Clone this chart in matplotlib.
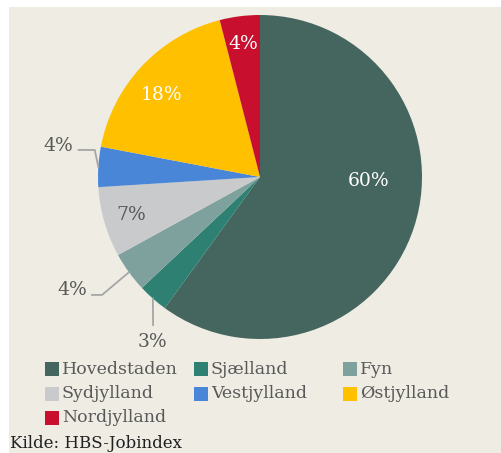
import matplotlib
matplotlib.use("Agg")
import matplotlib.pyplot as plt
from matplotlib.patches import Rectangle
import numpy as np

# ---- data ----
regions = ["Hovedstaden", "Sjælland", "Fyn", "Sydjylland", "Vestjylland", "Østjylland", "Nordjylland"]
shares = [60, 3, 4, 7, 4, 18, 4]
labels = ["60%", "3%", "4%", "7%", "4%", "18%", "4%"]
source = "Kilde: HBS-Jobindex"

# ---- style ----
colors = ["#44665E", "#2E8073", "#7FA19D", "#C9CACB", "#4A86D8", "#FFC000", "#C8102E"]
bg = "#EEECE3"
grey = "#595959"
W, H = 502, 453
font = "DejaVu Serif"

fig = plt.figure(figsize=(W / 100, H / 100), dpi=100)
fig.patch.set_facecolor("white")
fig.patches.append(Rectangle((9 / W, 0), 1 - 9 / W, 1 - 7 / H, transform=fig.transFigure,
                             facecolor=bg, edgecolor="none", zorder=-10))

cx, cy, R = 260, 177, 162
ax = fig.add_axes([(cx - R) / W, (H - cy - R) / H, 2 * R / W, 2 * R / H])
wedges, _ = ax.pie(shares, colors=colors, startangle=90, counterclock=False,
                   radius=1, wedgeprops=dict(linewidth=0))
ax.set_xlim(-1, 1)
ax.set_ylim(-1, 1)
ax.set_aspect("equal")
ax.axis("off")

# label placement
inside = {0: (0.67, -2, "white"), 3: (0.83, None, grey), 5: (0.79, 140, "white"), 6: (0.83, None, "white")}
outside = {
    1: ((-0.667, -1.02), [(-0.66, -0.914)]),
    2: ((-1.16, -0.70), [(-1.037, -0.728), (-0.975, -0.728)]),
    4: ((-1.245, 0.19), [(-1.12, 0.167), (-1.02, 0.167)]),
}
fs = 13.5
for i, w in enumerate(wedges):
    mid = np.deg2rad((w.theta1 + w.theta2) / 2)
    if i in inside:
        r, ang, c = inside[i]
        a = mid if ang is None else np.deg2rad(ang)
        ax.text(r * np.cos(a), r * np.sin(a), labels[i], ha="center", va="center",
                color=c, fontsize=fs, family=font)
    else:
        txy, pts = outside[i]
        edge = (np.cos(mid), np.sin(mid))
        line = pts + [edge]
        xs, ys = zip(*line)
        ax.plot(xs, ys, color="#A6A6A6", lw=1.3, clip_on=False)
        ax.text(txy[0], txy[1], labels[i], ha="center", va="center",
                color=grey, fontsize=fs, family=font, clip_on=False)

# legend (manual 3-column grid)
col_x = [45, 194, 343]
row_y = [369, 394, 418]
for k, (name, c) in enumerate(zip(regions, colors)):
    row, col = divmod(k, 3)
    x, y = col_x[col], row_y[row]
    fig.patches.append(Rectangle((x / W, 1 - (y + 7) / H), 14 / W, 14 / H,
                                 transform=fig.transFigure, facecolor=c, edgecolor="none"))
    fig.text((x + 17) / W, 1 - y / H, name, ha="left", va="center", color=grey,
             fontsize=12.5, family=font)

fig.text(10 / W, 1 - 444 / H, source, ha="left", va="center", color="#1F1F1F",
         fontsize=12, family=font, weight="medium")

fig.savefig("out.png", dpi=100, facecolor=fig.get_facecolor())
